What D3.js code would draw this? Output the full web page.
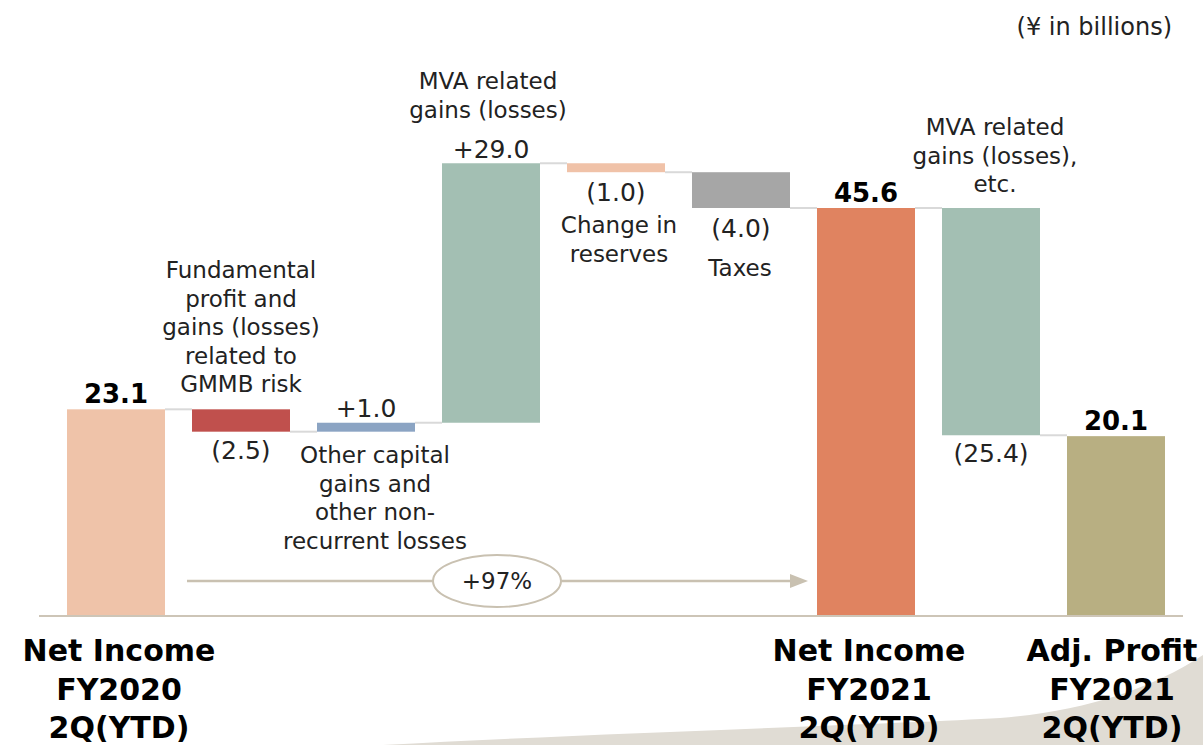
<!DOCTYPE html>
<html>
<head>
<meta charset="utf-8">
<script src="https://cdn.jsdelivr.net/npm/d3@7"></script>
<style>
  body { margin: 0; background: #fff; }
  svg { display: block; font-family: "DejaVu Sans", Verdana, sans-serif; }
</style>
</head>
<body>
<div class="chart"></div>
<script>
var width = 1203;
var height = 745;

// data
var steps = ['ni2020', 'gmmb', 'other', 'mva', 'reserves', 'taxes', 'ni2021', 'mvaEtc', 'adj2021'];
var values = [23.1, -2.5, 1.0, 29.0, -1.0, -4.0, 45.6, -25.4, 20.1];
var isTotal = [true, false, false, false, false, false, true, false, true];
var valueLabels = ['23.1', '(2.5)', '+1.0', '+29.0', '(1.0)', '(4.0)', '45.6', '(25.4)', '20.1'];
var stepNotes = [
  [],
  ['Fundamental', 'profit and', 'gains (losses)', 'related to', 'GMMB risk'],
  ['Other capital', 'gains and', 'other non-', 'recurrent losses'],
  ['MVA related', 'gains (losses)'],
  ['Change in', 'reserves'],
  ['Taxes'],
  [],
  ['MVA related', 'gains (losses),', 'etc.'],
  []
];
var categoryLabels = [
  ['Net Income', 'FY2020', '2Q(YTD)'],
  ['Net Income', 'FY2021', '2Q(YTD)'],
  ['Adj. Profit', 'FY2021', '2Q(YTD)']
];
var categorySteps = ['ni2020', 'ni2021', 'adj2021'];
var growthLabel = '+97%';
var unitLabel = '(\u00a5 in billions)';

var colors = ['#efc3a9', '#c0504d', '#8ba4c3', '#a3bfb3', '#f0c2a8', '#a6a6a6', '#e08360', '#a3bfb3', '#b8af82'];

// running totals
var bars = [];
var running = 0;
values.forEach(function(v, i) {
  var start, end;
  if (isTotal[i]) { start = 0; end = v; running = v; }
  else { start = running; end = running + v; running = end; }
  bars.push({ key: steps[i], value: v, start: start, end: end, total: isTotal[i],
              label: valueLabels[i], notes: stepNotes[i], color: colors[i] });
});

var svg = d3.select('.chart').append('svg')
  .attr('width', width)
  .attr('height', height);

// decorative swoosh bottom right
svg.append('path')
  .attr('d', 'M383,745 C600,733 900,724 1000,718 C1080,712 1150,690 1203,655 L1203,745 Z')
  .attr('fill', '#e0dcd4');

var x = d3.scaleBand()
  .domain(steps)
  .range([53.5, 1178.5])
  .paddingInner(0.216)
  .paddingOuter(0.108);

var y = d3.scaleLinear()
  .domain([0, 45.6])
  .range([616, 208]);

var bw = x.bandwidth();

// connectors
svg.selectAll('.connector')
  .data(bars.slice(0, -1))
  .enter().append('line')
  .attr('class', 'connector')
  .attr('x1', function(d) { return x(d.key) + bw; })
  .attr('x2', function(d, i) { return x(steps[i + 1]); })
  .attr('y1', function(d) { return y(d.end); })
  .attr('y2', function(d) { return y(d.end); })
  .attr('stroke', '#d9d9d9')
  .attr('stroke-width', 2);

// bars
svg.selectAll('.bar')
  .data(bars)
  .enter().append('rect')
  .attr('class', 'bar')
  .attr('x', function(d) { return x(d.key); })
  .attr('y', function(d) { return y(Math.max(d.start, d.end)); })
  .attr('width', bw)
  .attr('height', function(d) { return Math.abs(y(d.start) - y(d.end)); })
  .attr('fill', function(d) { return d.color; });

// baseline
svg.append('line')
  .attr('x1', 39).attr('x2', 1183)
  .attr('y1', y(0)).attr('y2', y(0))
  .attr('stroke', '#cdc5b7')
  .attr('stroke-width', 2);

// value labels: above the bar top for totals/increases, below for decreases
var labelY = {
  ni2020:   function(d) { return y(d.end) - 6; },
  gmmb:     function(d) { return y(d.end) + 27; },
  other:    function(d) { return y(d.end) - 6; },
  mva:      function(d) { return y(d.end) - 5; },
  reserves: function(d) { return y(d.end) + 29; },
  taxes:    function(d) { return y(d.end) + 29; },
  ni2021:   function(d) { return y(d.end) - 6; },
  mvaEtc:   function(d) { return y(d.end) + 27; },
  adj2021:  function(d) { return y(d.end) - 6; }
};

svg.selectAll('.value')
  .data(bars)
  .enter().append('text')
  .attr('class', 'value')
  .attr('text-anchor', 'middle')
  .attr('x', function(d) { return x(d.key) + bw / 2; })
  .attr('y', function(d) { return labelY[d.key](d); })
  .attr('font-size', function(d) { return d.total ? '26px' : '25px'; })
  .attr('font-weight', function(d) { return d.total ? 'bold' : 'normal'; })
  .attr('fill', function(d) { return d.total ? '#000' : '#222'; })
  .text(function(d) { return d.label; });

// step notes (first line baseline, centre offset)
var notePos = {
  gmmb:     { dx: 0,   y0: 278 },
  other:    { dx: 9,   y0: 463 },
  mva:      { dx: -3,  y0: 89 },
  reserves: { dx: 3,   y0: 233 },
  taxes:    { dx: -1,  y0: 276 },
  mvaEtc:   { dx: 4,   y0: 135 }
};

bars.forEach(function(d) {
  if (!d.notes.length) return;
  var p = notePos[d.key];
  var t = svg.append('text')
    .attr('text-anchor', 'middle')
    .attr('font-size', '23px')
    .attr('fill', '#222')
    .attr('x', x(d.key) + bw / 2 + p.dx)
    .attr('y', p.y0);
  d.notes.forEach(function(line, j) {
    t.append('tspan')
      .attr('x', x(d.key) + bw / 2 + p.dx)
      .attr('dy', j === 0 ? 0 : 28.5)
      .text(line);
  });
});

// category labels
categorySteps.forEach(function(k, i) {
  var cx = x(k) + bw / 2 + (k === 'adj2021' ? -4 : 3);
  var t = svg.append('text')
    .attr('text-anchor', 'middle')
    .attr('font-size', '30px')
    .attr('font-weight', 'bold')
    .attr('fill', '#000')
    .attr('x', cx)
    .attr('y', 661);
  categoryLabels[i].forEach(function(line, j) {
    t.append('tspan')
      .attr('x', cx)
      .attr('dy', j === 0 ? 0 : 38.5)
      .text(line);
  });
});

// growth arrow
var arrowY = 581;
var ax1 = x('ni2020') + bw + 22;
var ax2 = x('ni2021') - 9;
svg.append('line')
  .attr('x1', ax1).attr('x2', ax2 - 14)
  .attr('y1', arrowY).attr('y2', arrowY)
  .attr('stroke', '#c9c1b1')
  .attr('stroke-width', 2.5);
svg.append('polygon')
  .attr('points', [[ax2 - 18, arrowY - 7], [ax2, arrowY], [ax2 - 18, arrowY + 7]].join(' '))
  .attr('fill', '#c9c1b1');

var ex = x('mva') + bw / 2 + 6;
svg.append('ellipse')
  .attr('cx', ex).attr('cy', arrowY)
  .attr('rx', 64).attr('ry', 26)
  .attr('fill', '#fff')
  .attr('stroke', '#c9c1b1')
  .attr('stroke-width', 2);
svg.append('text')
  .attr('text-anchor', 'middle')
  .attr('x', ex).attr('y', arrowY + 8)
  .attr('font-size', '23px')
  .attr('fill', '#222')
  .text(growthLabel);

// unit
svg.append('text')
  .attr('text-anchor', 'end')
  .attr('x', 1172).attr('y', 35)
  .attr('font-size', '24px')
  .attr('fill', '#222')
  .text(unitLabel);
</script>
</body>
</html>
